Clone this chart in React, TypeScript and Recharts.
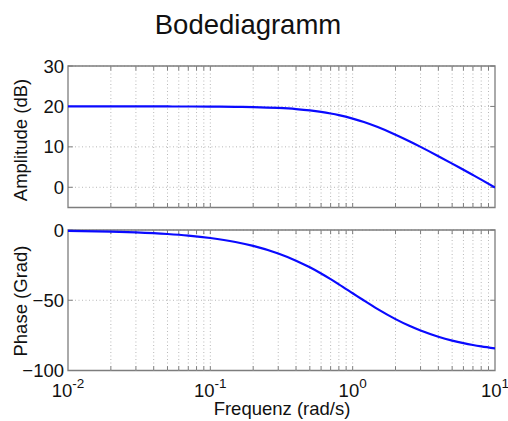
import React from 'react';
import { LineChart, Line, XAxis, YAxis, CartesianGrid, ReferenceLine, ReferenceArea } from 'recharts';

// Frequenz (rad/s)
const freq = [0.01, 0.02, 0.03, 0.05, 0.07, 0.1, 0.15, 0.2, 0.3, 0.4, 0.5, 0.6, 0.7, 0.8, 1, 1.2, 1.5, 2, 2.5, 3, 4, 5, 6, 7, 8, 10];
// Amplitude (dB)
const amplitude = [20.0, 20.0, 20.0, 19.99, 19.98, 19.96, 19.9, 19.83, 19.62, 19.35, 19.03, 18.66, 18.26, 17.85, 16.99, 16.14, 14.89, 13.01, 11.4, 10.0, 7.7, 5.85, 4.32, 3.03, 1.9, -0.04];
// Phase (Grad)
const phase = [-0.57, -1.15, -1.72, -2.86, -4.0, -5.71, -8.53, -11.31, -16.7, -21.8, -26.57, -30.96, -34.99, -38.66, -45.0, -50.19, -56.31, -63.43, -68.2, -71.57, -75.96, -78.69, -80.54, -81.87, -82.87, -84.29];

const decades = [0.01, 0.1, 1, 10];
const decadeLabels = ['-2', '-1', '0', '1'];
const gridX = [
  0.02, 0.03, 0.04, 0.05, 0.06, 0.07, 0.08, 0.09, 0.1,
  0.2, 0.3, 0.4, 0.5, 0.6, 0.7, 0.8, 0.9, 1,
  2, 3, 4, 5, 6, 7, 8, 9,
];
const ampTicks = [0, 10, 20, 30];
const phaseTicks = [-100, -50, 0];

const ampData = freq.map((w, i) => ({ w, v: amplitude[i] }));
const phaseData = freq.map((w, i) => ({ w, v: phase[i] }));

const FONT = '"Liberation Sans", Arial, Helvetica, sans-serif';
const BOX = '#7d7d7d';
const GRID = '#b8b8b8';
const BLUE = '#0a0aff';
const LABEL_SIZE = 18.5;

// eslint-disable-next-line @typescript-eslint/no-explicit-any
const bottomTick = (props: any) => {
  const { x, y, payload } = props;
  const idx = decades.findIndex(d => Math.abs(d - payload.value) < 1e-9);
  if (idx < 0) return <g />;
  return (
    <text x={x} y={y + 26.5} textAnchor="middle" fontFamily={FONT} fontSize={LABEL_SIZE} fill="#111">
      <tspan>10</tspan>
      <tspan dy={-9} fontSize={13.5}>{decadeLabels[idx]}</tspan>
    </text>
  );
};

// eslint-disable-next-line @typescript-eslint/no-explicit-any
const leftTick = (props: any) => {
  const { x, y, payload } = props;
  const label = String(payload.value).replace('-', '\u2212');
  return (
    <text x={x - 4} y={y + 6.5} textAnchor="end" fontFamily={FONT} fontSize={LABEL_SIZE} fill="#111">
      {label}
    </text>
  );
};

interface PanelProps {
  data: { w: number; v: number }[];
  domainY: [number, number];
  ticksY: number[];
  height: number;
  margin: { top: number; right: number; bottom: number; left: number };
  showXLabels: boolean;
  tickLenY: number; // inward tick length in y units (~4px)
}

const Panel: React.FC<PanelProps> = ({ data, domainY, ticksY, height, margin, showXLabels, tickLenY }) => {
  const [y0, y1] = domainY;
  return (
    <LineChart width={508} height={height} data={data} margin={margin}>
      <CartesianGrid vertical={false} stroke={GRID} strokeDasharray="1 2.5" />
      {gridX.map(g => (
        <ReferenceLine key={g} x={g} stroke={GRID} strokeDasharray="1 2.5" strokeWidth={1} />
      ))}
      {gridX.map(g => (
        <ReferenceLine
          key={`b${g}`}
          segment={[{ x: g, y: y0 }, { x: g, y: y0 + tickLenY }]}
          stroke={BOX}
          strokeWidth={1}
        />
      ))}
      {gridX.map(g => (
        <ReferenceLine
          key={`t${g}`}
          segment={[{ x: g, y: y1 }, { x: g, y: y1 - tickLenY }]}
          stroke={BOX}
          strokeWidth={1}
        />
      ))}
      {ticksY.map(t => (
        <ReferenceLine key={`l${t}`} segment={[{ x: 0.01, y: t }, { x: 0.0108, y: t }]} stroke={BOX} strokeWidth={1} />
      ))}
      {ticksY.map(t => (
        <ReferenceLine key={`r${t}`} segment={[{ x: 9.25, y: t }, { x: 10, y: t }]} stroke={BOX} strokeWidth={1} />
      ))}
      <XAxis
        dataKey="w"
        type="number"
        scale="log"
        domain={[0.01, 10]}
        allowDataOverflow
        ticks={decades}
        interval={0}
        tickSize={0}
        tickMargin={0}
        tickLine={false}
        axisLine={false}
        height={showXLabels ? 30 : 0}
        tick={showXLabels ? bottomTick : false}
      />
      <YAxis
        domain={domainY}
        ticks={ticksY}
        interval={0}
        tickSize={0}
        tickMargin={0}
        tickLine={false}
        axisLine={false}
        width={68}
        tick={leftTick}
      />
      <Line
        type="monotone"
        dataKey="v"
        stroke={BLUE}
        strokeWidth={2.2}
        dot={false}
        isAnimationActive={false}
      />
      <ReferenceArea x1={0.01} x2={10} y1={y0} y2={y1} fill="none" stroke={BOX} strokeWidth={1.3} />
    </LineChart>
  );
};

export default function App() {
  return (
    <div style={{ position: 'fixed', left: 0, top: 0, width: 508, height: 421, background: '#fff', fontFamily: FONT }}>
      <div style={{ position: 'absolute', left: 0, top: 0 }}>
        <Panel
          data={ampData}
          domainY={[-5, 30]}
          ticksY={ampTicks}
          height={215}
          margin={{ top: 66, right: 13, bottom: 7.5, left: 0 }}
          showXLabels={false}
          tickLenY={1.1}
        />
      </div>
      <div style={{ position: 'absolute', left: 0, top: 215 }}>
        <Panel
          data={phaseData}
          domainY={[-100, 0]}
          ticksY={phaseTicks}
          height={206}
          margin={{ top: 15, right: 13, bottom: 20.5, left: 0 }}
          showXLabels
          tickLenY={3}
        />
      </div>
      <svg width={508} height={421} style={{ position: 'absolute', left: 0, top: 0, pointerEvents: 'none' }}>
        <text x={248} y={34} textAnchor="middle" fontFamily={FONT} fontSize={27.5} fill="#111">Bodediagramm</text>
        <text transform="translate(27,140) rotate(-90)" textAnchor="middle" fontFamily={FONT} fontSize={LABEL_SIZE} fill="#111">Amplitude (dB)</text>
        <text transform="translate(27,301) rotate(-90)" textAnchor="middle" fontFamily={FONT} fontSize={LABEL_SIZE} fill="#111">Phase (Grad)</text>
        <text x={282} y={415} textAnchor="middle" fontFamily={FONT} fontSize={LABEL_SIZE} fill="#111">Frequenz (rad/s)</text>
      </svg>
    </div>
  );
}
